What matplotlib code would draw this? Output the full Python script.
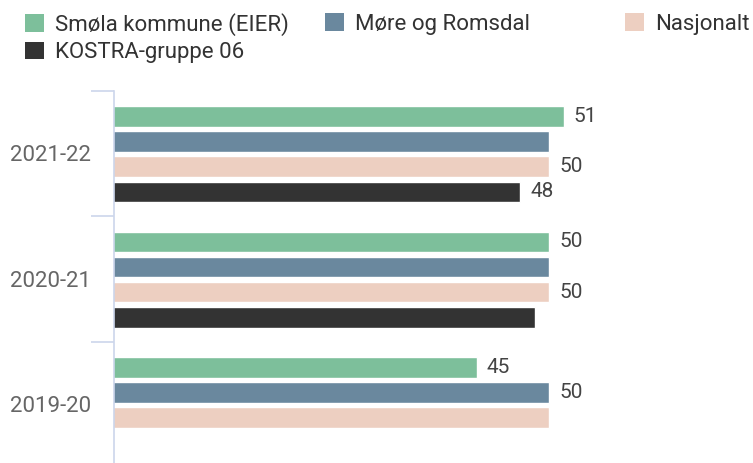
import numpy as np
import matplotlib
matplotlib.use("Agg")
import matplotlib.pyplot as plt
from matplotlib.patches import Patch

plt.rcParams['font.family'] = ['Roboto', 'DejaVu Sans']

categories = ["2021-22", "2020-21", "2019-20"]
series_names = ["Smøla kommune (EIER)", "Møre og Romsdal", "Nasjonalt", "KOSTRA-gruppe 06"]
smola = [51, 50, 45]
more_romsdal = [50, 50, 50]
nasjonalt = [50, 50, 50]
kostra = [48, 49, np.nan]
series_values = [smola, more_romsdal, nasjonalt, kostra]
colors = ["#7dbf9b", "#6a889e", "#edcfc1", "#333333"]
# which data labels are visible (others hidden due to overlap in original)
label_visible = [
    [True, True, True],
    [False, False, True],
    [True, True, False],
    [True, False, False],
]

W, H = 753, 463
fig = plt.figure(figsize=(W / 100, H / 100), dpi=100)

px_per_unit = 14.5
x0 = 20
left_px, right_px = 114, 745
top_px, band_px = 90.7, 125.5
bottom_px = top_px + band_px * len(categories)
ax = fig.add_axes([left_px / W, (H - bottom_px) / H,
                   (right_px - left_px) / W, (bottom_px - top_px) / H])
ax.set_xlim(x0, x0 + (right_px - left_px) / px_per_unit)
ax.set_ylim(len(categories) - 0.5, -0.5)

pitch = 25.2 / band_px
bh = 20.5 / band_px
y = np.arange(len(categories))
fs = 16
fs_val = 15
for i, (vals, c) in enumerate(zip(series_values, colors)):
    yy = y + (i - 1.5) * pitch + 0.005
    ax.barh(yy, vals, height=bh, color=c, edgecolor="white", linewidth=1)
    for j, v in enumerate(vals):
        if label_visible[i][j] and not np.isnan(v):
            ax.annotate(f"{v:.0f}", (v, yy[j]), xytext=(7.5, 0), textcoords="offset points",
                        ha="left", va="center", fontsize=fs_val, color="#444444")

for s in ["top", "right", "bottom"]:
    ax.spines[s].set_visible(False)
ax.spines["left"].set_color("#ccd6eb")
ax.spines["left"].set_linewidth(1.2)
ax.set_xticks([])
ax.set_yticks(np.arange(len(categories) + 1) - 0.5)
ax.set_yticklabels([])
ax.tick_params(axis="y", which="major", length=16.5, width=1.2, color="#ccd6eb")
ax.set_yticks(y, minor=True)
ax.set_yticklabels(categories, minor=True)
ax.tick_params(axis="y", which="minor", length=0, pad=16.5, labelsize=fs, labelcolor="#666666")

handles = [Patch(facecolor=c, edgecolor="none") for c in colors]
leg_kw = dict(frameon=False, fontsize=fs, handlelength=0.85, handleheight=0.85,
              handletextpad=0.5, borderpad=0, borderaxespad=0, labelspacing=0.25,
              labelcolor="#333333", loc="upper left")
top_anchor = 1 - 13 / H
l1 = fig.legend([handles[0], handles[3]], [series_names[0], series_names[3]],
                bbox_to_anchor=(25 / W, top_anchor), **leg_kw)
l2 = fig.legend([handles[1]], [series_names[1]], bbox_to_anchor=(325 / W, top_anchor), **leg_kw)
l3 = fig.legend([handles[2]], [series_names[2]], bbox_to_anchor=(625 / W, top_anchor), **leg_kw)

fig.savefig("out.png", dpi=100)
